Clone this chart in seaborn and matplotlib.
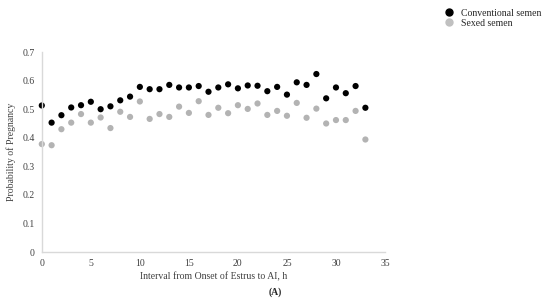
import matplotlib
matplotlib.use("Agg")
import matplotlib.pyplot as plt
import seaborn as sns
import pandas as pd

sns.set_theme(style="white")
plt.rcParams["font.family"] = ["Liberation Serif", "DejaVu Serif"]

hours = list(range(34))
conventional = [0.513, 0.453, 0.479, 0.506, 0.514, 0.526, 0.500, 0.510, 0.531, 0.544,
                0.578, 0.570, 0.570, 0.585, 0.576, 0.576, 0.581, 0.561, 0.576, 0.587,
                0.573, 0.583, 0.582, 0.563, 0.578, 0.551, 0.594, 0.585, 0.623, 0.538,
                0.576, 0.556, 0.581, 0.505]
sexed = [0.378, 0.374, 0.430, 0.453, 0.483, 0.453, 0.471, 0.434, 0.491, 0.473,
         0.527, 0.466, 0.483, 0.473, 0.509, 0.487, 0.528, 0.480, 0.505, 0.486,
         0.514, 0.501, 0.520, 0.480, 0.494, 0.477, 0.522, 0.470, 0.502, 0.450,
         0.462, 0.462, 0.494, 0.394]

df = pd.DataFrame({
    "hour": hours * 2,
    "prob": conventional + sexed,
    "group": ["Conventional semen"] * len(hours) + ["Sexed semen"] * len(hours),
})

fig = plt.figure(figsize=(5.5, 3.06), dpi=100)
ax = fig.add_axes([0.076, 0.176, 0.624, 0.654])
sns.scatterplot(data=df, x="hour", y="prob", hue="group",
                palette={"Conventional semen": "black", "Sexed semen": "#b3b3b3"},
                s=20, linewidth=0, ax=ax, clip_on=False, legend=False)

ax.set_xlim(0, 35)
ax.set_ylim(0, 0.7)
ax.set_xticks(range(0, 36, 5))
ax.set_yticks([0, 0.1, 0.2, 0.3, 0.4, 0.5, 0.6, 0.7])
ax.set_yticklabels(["0", "0.1", "0.2", "0.3", "0.4", "0.5", "0.6", "0.7"])
ax.tick_params(labelsize=7, colors="#404040", length=0, pad=5)
for side in ["top", "right"]:
    ax.spines[side].set_visible(False)
for side in ["left", "bottom"]:
    ax.spines[side].set_color("#d9d9d9")
    ax.spines[side].set_linewidth(1)
ax.set_xlabel("Interval from Onset of Estrus to AI, h", fontsize=7, color="#404040", labelpad=3)
ax.set_ylabel("Probability of Pregnancy", fontsize=7, color="#404040", labelpad=5)

handles = [
    plt.Line2D([], [], marker="o", color="black", linestyle="", markersize=5),
    plt.Line2D([], [], marker="o", color="#c0c0c0", linestyle="", markersize=5),
]
fig.legend(handles, ["Conventional semen", "Sexed semen"], loc="upper right",
           bbox_to_anchor=(1.0, 1.0), frameon=False, fontsize=7,
           handletextpad=0.5, labelspacing=0.1, handlelength=1.5)

fig.text(0.5, 0.045, "(A)", ha="center", va="center", fontsize=7, fontweight="bold")

fig.savefig("out.png", dpi=100)
